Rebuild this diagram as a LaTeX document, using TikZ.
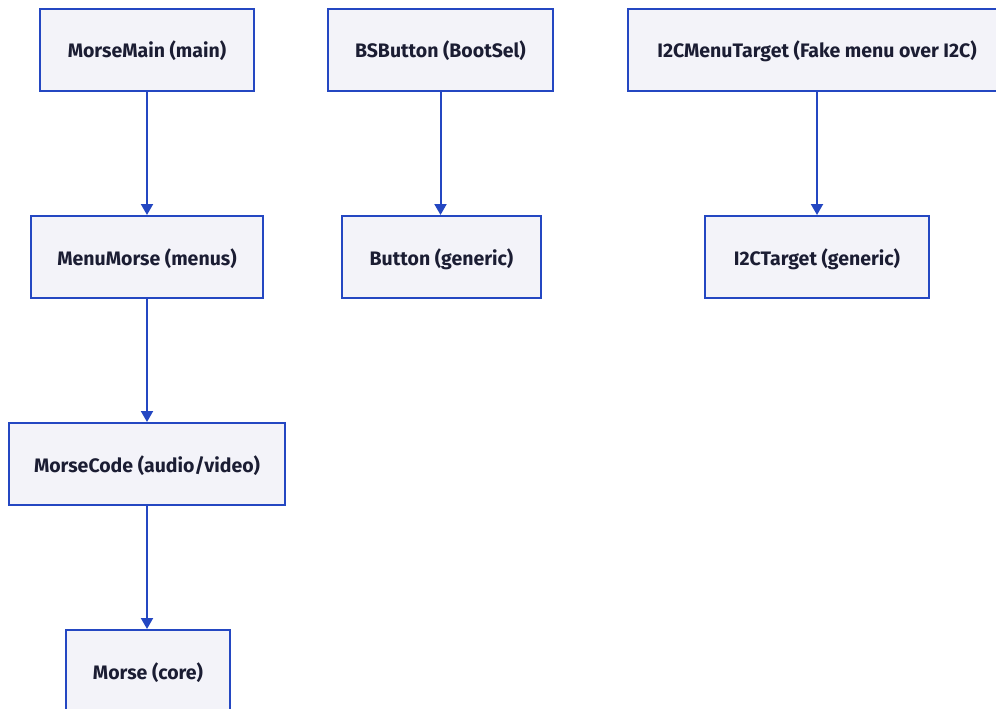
\documentclass[tikz,border=0pt]{standalone}
\usepackage{fontspec}
\setmainfont{Fira Sans}
\usetikzlibrary{arrows.meta}
\definecolor{boxfill}{HTML}{F3F3F9}
\definecolor{boxline}{HTML}{2447C2}
\definecolor{txt}{HTML}{1B1D33}
\tikzset{
  box/.style={draw=boxline, line width=2pt, fill=boxfill, rectangle, inner sep=0pt,
    font=\fontsize{19.5}{23}\selectfont\bfseries, text=txt, anchor=center,
    text height=16pt, text depth=0pt, minimum height=82pt},
  conn/.style={draw=boxline, line width=2pt, -{Triangle[length=11pt,width=12pt]}}
}
\begin{document}
\begin{tikzpicture}[x=1pt,y=-1pt]
\clip (0,0) rectangle (996,709);
\fill[white] (0,0) rectangle (996,709);
\node[box, minimum width=214pt] (mm) at (147,50) {MorseMain (main)};
\node[box, minimum width=225pt] (bs) at (440.5,50) {BSButton (BootSel)};
\node[box, minimum width=378pt] (i2m) at (817,50) {I2CMenuTarget (Fake menu over I2C)};
\node[box, minimum width=232pt] (menu) at (147,257) {MenuMorse (menus)};
\node[box, minimum width=199pt] (btn) at (441.5,257) {Button (generic)};
\node[box, minimum width=224pt] (i2t) at (817,257) {I2CTarget (generic)};
\node[box, minimum width=276pt] (code) at (147,464) {MorseCode (audio/video)};
\node[box, minimum width=164pt] (core) at (148,671) {Morse (core)};
\draw[conn] (mm.south) -- (menu.north);
\draw[conn] (menu.south) -- (code.north);
\draw[conn] (code.south) -- (core.north -| code.south);
\draw[conn] (bs.south) -- (btn.north -| bs.south);
\draw[conn] (i2m.south) -- (i2t.north);
\end{tikzpicture}
\end{document}
